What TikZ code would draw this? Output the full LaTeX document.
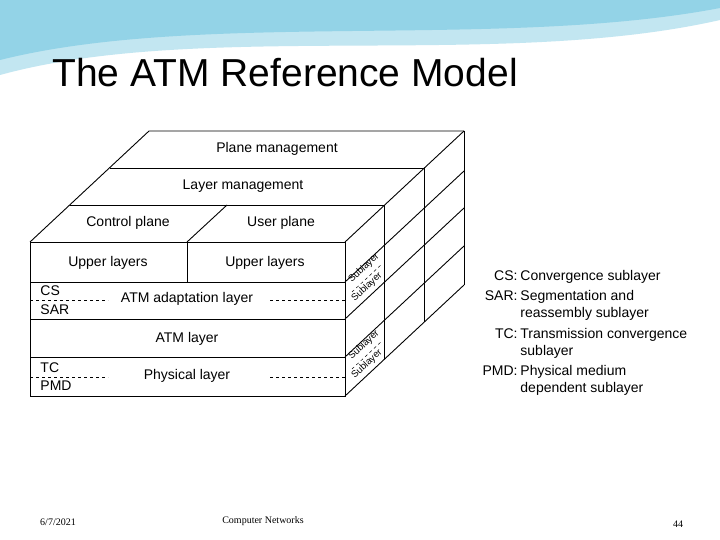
\documentclass[tikz,border=0pt]{standalone}
\usepackage{fontspec}
\setmainfont{Liberation Sans}
\newfontfamily\footfont{Liberation Serif}
\usetikzlibrary{positioning,calc}
\definecolor{swoosh}{RGB}{120,200,225}
\tikzstyle{lbl}=[font=\fontsize{14}{15}\selectfont, inner sep=1pt]
\tikzstyle{sub}=[font=\fontsize{9.5}{10}\selectfont, inner sep=0pt, rotate=43]
\tikzstyle{key}=[font=\fontsize{14}{17}\selectfont, anchor=north east, inner sep=0pt]
\tikzstyle{desc}=[font=\fontsize{14}{17}\selectfont, anchor=north west, inner sep=0pt, align=left]
\tikzstyle{foot}=[font=\footfont\fontsize{10}{12}\selectfont]

\begin{document}
\begin{tikzpicture}[x=1pt, y=-1pt, line width=0.9pt]
    \useasboundingbox (0,0) rectangle (720,540);
    \fill[white] (0,0) rectangle (720,540);
    % swoosh
    \fill[swoosh!45] (0,0) -- (720,0) -- (720,20) .. controls (500,70) and (200,20) .. (0,75) -- cycle;
    \fill[swoosh!80] (0,0) -- (720,0) -- (720,8) .. controls (500,50) and (200,10) .. (0,60) -- cycle;
    \node[anchor=west, font=\fontsize{39}{40}\selectfont, inner sep=0pt] (title) at (52,73) {The ATM Reference Model};

    % front face
    \def\L{30} \def\R{345}
    \draw (\L,242) rectangle (\R,396);
    \foreach \yy in {282,319,357}{
        \draw (\L,\yy) -- (\R,\yy);
    }
    \draw (187,242) -- (187,282);
    % top slabs
    \draw (\L,242) -- (149,131) -- (464,131);
    \draw (70,205) -- (384,205);
    \draw (110,168) -- (424,168);
    \draw (187,242) -- (227,205);
    % right face
    \foreach \yy in {242,282,319,357,396}{
        \draw (\R,\yy) -- ++(119,-111);
    }
    \draw (384,205) -- (384,359);
    \draw (424,168) -- (424,322);
    \draw (464,131) -- (464,285);
    % dashed sublayer lines
    \draw[dashed] (\L,300) -- (108,300);
    \draw[dashed] (270,300) -- (\R,300);
    \draw[dashed] (\L,377) -- (108,377);
    \draw[dashed] (270,377) -- (\R,377);

    \node[lbl] (pm) at (277,149) {Plane management};
    \node[lbl] (lm) at (243,186) {Layer management};
    \node[lbl] (cp) at (128,223) {Control plane};
    \node[lbl] (up) at (281,223) {User plane};
    \node[lbl] (ul1) at (108,263) {Upper layers};
    \node[lbl] (ul2) at (265,263) {Upper layers};
    \node[lbl] (aal) at (187,299) {ATM adaptation layer};
    \node[lbl] (atm) at (187,339) {ATM layer};
    \node[lbl] (phy) at (187,376) {Physical layer};
    \node[lbl, anchor=west] (cs) at (39,291) {CS};
    \node[lbl, anchor=west] (sar) at (39,310) {SAR};
    \node[lbl, anchor=west] (tc) at (39,368) {TC};
    \node[lbl, anchor=west] (pmd) at (39,386) {PMD};
    \node[sub] (s1) at (364,268) {Sublayer};
    \node[sub] (s2) at (367,287) {Sublayer};
    \node[sub] (s3) at (364,345) {Sublayer};
    \node[sub] (s4) at (367,364) {Sublayer};
    \draw[dashed, line width=0.5pt] (352,292) -- (382,264);
    \draw[dashed, line width=0.5pt] (352,369) -- (382,341);

    % legend
    \node[key] (kcs) at (518,270) {CS:};
    \node[desc] (dcs) at (520,270) {Convergence sublayer};
    \node[key] (ksar) at (518,290) {SAR:};
    \node[desc] (dsar) at (520,290) {Segmentation and\\reassembly sublayer};
    \node[key] (ktc) at (518,328) {TC:};
    \node[desc] (dtc) at (520,328) {Transmission convergence\\sublayer};
    \node[key] (kpmd) at (518,365) {PMD:};
    \node[desc] (dpmd) at (520,365) {Physical medium\\dependent sublayer};

    % footer
    \node[foot] (date) at (58,522) {6/7/2021};
    \node[foot] (course) at (263,521) {Computer Networks};
    \node[foot] (page) at (678,524) {44};
\end{tikzpicture}
\end{document}
